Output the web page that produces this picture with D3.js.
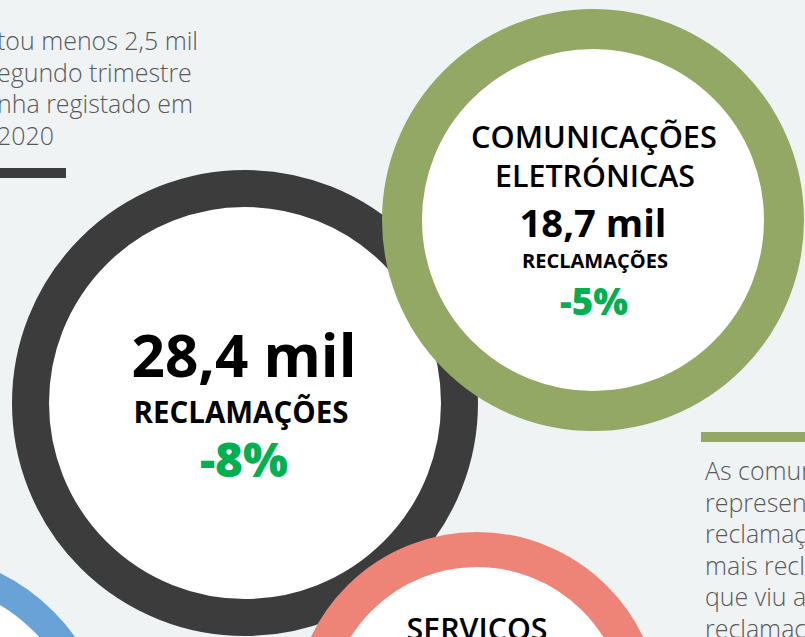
<!DOCTYPE html>
<html><head><meta charset="utf-8">
<script src="https://cdn.jsdelivr.net/npm/d3@7"></script>
<style>body{margin:0;background:#eff3f4;overflow:hidden} svg{display:block}</style>
</head><body>
<script>
// ---- data ----
const categories = ["TOTAL", "COMUNICAÇÕES ELETRÓNICAS", "SERVIÇOS", "OUTROS"];
const values = [28.4, 18.7, null, null];        // milhares de reclamações
const changes = [-8, -5, null, null];           // variação %
const unitLabel = "RECLAMAÇÕES";
const leftNote = ["tou menos 2,5 mil", "egundo trimestre", "nha registado em", "2020"];
const rightNote = ["As comunicações", "representaram", "reclamações", "mais reclamações", "que viu a", "reclamações"];

// ---- layout (not data) ----
const W = 805, H = 637;
const ringColors = ["#3c3c3c", "#93a864", "#ee8478", "#68a2d6"];
const layout = [
  {cx: 245, cy: 403, r: 233, w: 37},
  {cx: 593, cy: 220, r: 211, w: 40},
  {cx: 477, cy: 716, r: 184, w: 35},
  {cx: -90, cy: 755, r: 203, w: 28}
];
const drawOrder = [3, 0, 2, 1];
const FONT = "'Open Sans', 'Noto Sans', sans-serif";
const GREEN = "#00b050";

const fmt = v => d3.format(".1f")(v).replace(".", ",") + " mil";
const fmtPct = v => (v > 0 ? "+" : "") + v + "%";

const svg = d3.select("body").append("svg").attr("width", W).attr("height", H);
svg.append("rect").attr("width", W).attr("height", H).attr("fill", "#eff3f4");

function fitText(sel, target) {
  const n = sel.node();
  const len = n.getComputedTextLength();
  const fs = parseFloat(sel.attr("font-size"));
  if (len > 0) sel.attr("font-size", fs * target / len);
  return sel;
}

// note texts
const note = svg.append("g").attr("font-family", FONT).attr("font-weight", 300)
  .attr("fill", "#595959").attr("font-size", 24);
const leftStarts = [-3, -3, -3, -3];
const lt = note.selectAll("text.l").data(leftNote).join("text").attr("class", "l")
  .attr("x", (d, i) => leftStarts[i]).attr("y", (d, i) => 50 + i * 31.7)
  .text(d => d);
// calibrate note font size so the first line ends where the reference's does
const probe = d3.select(lt.nodes()[0]);
const noteSize = 24 * 201 / probe.node().getComputedTextLength();
note.attr("font-size", noteSize);
note.selectAll("text.r").data(rightNote).join("text").attr("class", "r")
  .attr("x", 705).attr("y", (d, i) => 480 + i * 31.5).text(d => d);

// accent bars
svg.append("rect").attr("x", 0).attr("y", 168).attr("width", 66).attr("height", 10).attr("fill", ringColors[0]);
svg.append("rect").attr("x", 701).attr("y", 432).attr("width", 110).attr("height", 10).attr("fill", ringColors[1]);

// rings
drawOrder.forEach(i => {
  const L = layout[i];
  svg.append("circle").attr("cx", L.cx).attr("cy", L.cy).attr("r", L.r - L.w / 2)
    .attr("fill", "#ffffff").attr("stroke", ringColors[i]).attr("stroke-width", L.w);
});

function label(x, y, txt, size, weight, fill, target) {
  const t = svg.append("text").attr("x", x).attr("y", y).attr("text-anchor", "middle")
    .attr("font-family", FONT).attr("font-weight", weight).attr("font-size", size)
    .attr("fill", fill || "#000").text(txt);
  if (target) fitText(t, target);
  return t;
}

// circle 0: total
label(244, 377, fmt(values[0]), 62, 700, "#000", 225);
label(241, 423, unitLabel, 24, 700, "#000", 215);
label(244, 477, fmtPct(changes[0]), 44, 800, GREEN, 88);

// circle 1: comunicações eletrónicas
const catWords = categories[1].split(" ");
label(594, 148, catWords[0], 28, 600, "#000", 246);
label(595, 187, catWords[1], 28, 600, "#000", 200);
label(593, 237, fmt(values[1]), 42, 700, "#000", 147);
label(595, 268, unitLabel, 17, 700, "#000", 146);
label(594, 315, fmtPct(changes[1]), 35, 800, GREEN, 68);

// circle 2: serviços
label(477, 640, categories[2], 28, 600, "#000", 141);
</script>
</body></html>
